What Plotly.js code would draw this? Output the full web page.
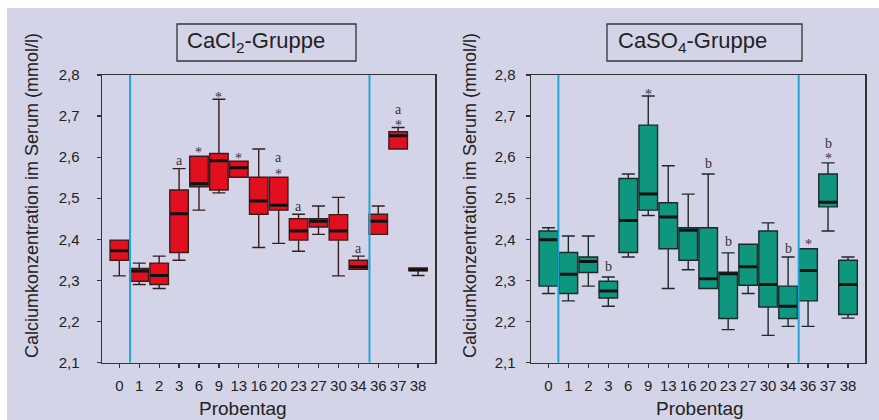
<!DOCTYPE html>
<html>
<head>
<meta charset="utf-8">
<script src="https://cdn.plot.ly/plotly-3.0.1.min.js"></script>
<style>html,body{margin:0;padding:0;background:#fff;}#chart{width:879px;height:420px;}</style>
</head>
<body>
<div id="chart"></div>
<script>
// Sampling days (categories)
const days = ['0','1','2','3','6','9','13','16','20','23','27','30','34','36','37','38'];

// CaCl2 group: whisker low, Q1, median, Q3, whisker high (mmol/l)
const cl_lo  = [2.311, 2.290, 2.280, 2.349, 2.471, 2.513, 2.551, 2.380, 2.390, 2.371, 2.412, 2.311, 2.327, 2.412, 2.620, 2.312];
const cl_q1  = [2.349, 2.298, 2.290, 2.368, 2.528, 2.520, 2.551, 2.461, 2.471, 2.398, 2.430, 2.398, 2.327, 2.412, 2.620, 2.323];
const cl_med = [2.372, 2.323, 2.312, 2.462, 2.535, 2.591, 2.574, 2.493, 2.483, 2.420, 2.444, 2.420, 2.333, 2.444, 2.652, 2.326];
const cl_q3  = [2.398, 2.329, 2.342, 2.520, 2.602, 2.609, 2.590, 2.551, 2.551, 2.450, 2.450, 2.460, 2.349, 2.461, 2.662, 2.330];
const cl_hi  = [2.398, 2.342, 2.359, 2.572, 2.602, 2.741, 2.590, 2.620, 2.551, 2.461, 2.481, 2.502, 2.359, 2.481, 2.672, 2.330];

// CaSO4 group
const so_lo  = [2.268, 2.250, 2.286, 2.237, 2.357, 2.458, 2.280, 2.326, 2.280, 2.180, 2.268, 2.166, 2.188, 2.188, 2.420, 2.208];
const so_q1  = [2.286, 2.268, 2.319, 2.257, 2.368, 2.471, 2.377, 2.349, 2.280, 2.207, 2.288, 2.235, 2.207, 2.250, 2.479, 2.217];
const so_med = [2.399, 2.315, 2.346, 2.274, 2.446, 2.510, 2.454, 2.422, 2.304, 2.316, 2.333, 2.290, 2.237, 2.324, 2.490, 2.290];
const so_q3  = [2.420, 2.368, 2.357, 2.298, 2.548, 2.678, 2.489, 2.428, 2.428, 2.320, 2.388, 2.420, 2.286, 2.377, 2.559, 2.349];
const so_hi  = [2.428, 2.408, 2.408, 2.308, 2.559, 2.749, 2.579, 2.510, 2.559, 2.367, 2.388, 2.440, 2.357, 2.377, 2.586, 2.357];

// Significance marks (category index, value, label)
const markL_x = [3, 4, 5, 6, 8, 8, 9, 12, 14, 14];
const markL_y = [2.593, 2.620, 2.755, 2.607, 2.598, 2.568, 2.481, 2.377, 2.716, 2.688];
const markL_t = ['a','*','*','*','a','*','a','a','a','*'];
const markR_x = [3, 5, 8, 9, 12, 13, 14, 14];
const markR_y = [2.333, 2.763, 2.585, 2.394, 2.377, 2.398, 2.633, 2.607];
const markR_t = ['b','*','b','b','b','*','b','*'];

// Phase separators (category positions)
const sepL = [0.54, 12.56];
const sepR = [0.50, 12.53];

const idx = days.map((d, i) => i);
const W = 879, H = 420;
const px = v => v / W, py = v => 1 - v / H;

function boxTrace(q1, med, q3, lo, hi, fill, line, xa, ya) {
  return {
    type: 'box', x: idx, q1: q1, median: med, q3: q3, lowerfence: lo, upperfence: hi,
    width: 0.93, whiskerwidth: 0.7, fillcolor: fill,
    line: {color: line, width: 1.4}, boxpoints: false,
    xaxis: xa, yaxis: ya, hoverinfo: 'skip', showlegend: false
  };
}
function medTrace(med, xa, ya) {
  return {
    type: 'scatter', mode: 'markers', x: idx, y: med,
    marker: {symbol: 'line-ew', size: 12.6, color: '#111', line: {color: '#111', width: 3}},
    xaxis: xa, yaxis: ya, hoverinfo: 'skip', showlegend: false
  };
}

const data = [
  boxTrace(cl_q1, cl_med, cl_q3, cl_lo, cl_hi, '#e2101e', '#3a1c1c', 'x', 'y'),
  medTrace(cl_med, 'x', 'y'),
  boxTrace(so_q1, so_med, so_q3, so_lo, so_hi, '#0f967e', '#1c2a28', 'x2', 'y2'),
  medTrace(so_med, 'x2', 'y2')
];

const tickFont = {family: 'Liberation Sans, Arial, sans-serif', size: 15, color: '#222'};
function xAxis(dom, anchor) {
  return {
    domain: dom, anchor: anchor, range: [-0.87, 15.85],
    tickmode: 'array', tickvals: idx, ticktext: days,
    ticks: 'outside', ticklen: 4, tickwidth: 1.2, tickcolor: '#333',
    showline: true, linecolor: '#333', linewidth: 1.5, mirror: true,
    showgrid: false, zeroline: false, tickfont: tickFont, ticklabelstandoff: 5,
    fixedrange: true
  };
}
function yAxis(anchor, standoff) {
  return {
    domain: [py(362.5), py(75)], anchor: anchor, range: [2.1, 2.8],
    tick0: 2.1, dtick: 0.1, tickformat: '.1f',
    ticks: 'outside', ticklen: 4, tickwidth: 1.2, tickcolor: '#333',
    showline: true, linecolor: '#333', linewidth: 1.5, mirror: true,
    showgrid: false, zeroline: false, tickfont: tickFont, ticklabelstandoff: standoff,
    fixedrange: true
  };
}

const shapes = [
  {type: 'rect', xref: 'paper', yref: 'paper', x0: px(7), x1: 1, y0: 0, y1: py(8),
   fillcolor: '#d4d4e8', line: {width: 0}, layer: 'below'},
  {type: 'rect', xref: 'paper', yref: 'paper', x0: px(177), x1: px(356), y0: py(61), y1: py(24),
   line: {color: '#333', width: 1.3}},
  {type: 'rect', xref: 'paper', yref: 'paper', x0: px(607), x1: px(802), y0: py(61), y1: py(24),
   line: {color: '#333', width: 1.3}}
];
sepL.forEach(s => shapes.push({type: 'line', xref: 'x', yref: 'y domain', x0: s, x1: s, y0: 0, y1: 1,
  line: {color: '#1ea6d4', width: 2}}));
sepR.forEach(s => shapes.push({type: 'line', xref: 'x2', yref: 'y2 domain', x0: s, x1: s, y0: 0, y1: 1,
  line: {color: '#1ea6d4', width: 2}}));

const labFont = {family: 'Liberation Sans, Arial, sans-serif', color: '#222'};
const annotations = [
  {xref: 'paper', yref: 'paper', x: px(185), y: py(42.5), xanchor: 'left', yanchor: 'middle',
   text: 'CaCl<sub>2</sub>-Gruppe', showarrow: false, font: Object.assign({size: 22}, labFont)},
  {xref: 'paper', yref: 'paper', x: px(616), y: py(42.5), xanchor: 'left', yanchor: 'middle',
   text: 'CaSO<sub>4</sub>-Gruppe', showarrow: false, font: Object.assign({size: 22}, labFont)},
  {xref: 'paper', yref: 'paper', x: px(32), y: py(196), textangle: -90, xanchor: 'center', yanchor: 'middle',
   text: 'Calciumkonzentration im Serum (mmol/l)', showarrow: false, font: Object.assign({size: 18}, labFont)},
  {xref: 'paper', yref: 'paper', x: px(470), y: py(196), textangle: -90, xanchor: 'center', yanchor: 'middle',
   text: 'Calciumkonzentration im Serum (mmol/l)', showarrow: false, font: Object.assign({size: 18}, labFont)},
  {xref: 'paper', yref: 'paper', x: px(243), y: py(408), xanchor: 'center', yanchor: 'middle',
   text: 'Probentag', showarrow: false, font: Object.assign({size: 19}, labFont)},
  {xref: 'paper', yref: 'paper', x: px(700), y: py(408), xanchor: 'center', yanchor: 'middle',
   text: 'Probentag', showarrow: false, font: Object.assign({size: 19}, labFont)}
];
function addMarks(xs, ys, ts, xr, yr) {
  xs.forEach((x, i) => annotations.push({
    xref: xr, yref: yr, x: x, y: ys[i], text: ts[i], showarrow: false,
    xanchor: 'center', yanchor: 'middle', yshift: ts[i] === '*' ? -4 : 0,
    font: {family: 'Liberation Serif, DejaVu Serif, serif', size: 14, color: '#333'}
  }));
}
addMarks(markL_x, markL_y, markL_t, 'x', 'y');
addMarks(markR_x, markR_y, markR_t, 'x2', 'y2');

const layout = {
  width: W, height: H, margin: {l: 0, r: 0, t: 0, b: 0, pad: 0},
  paper_bgcolor: '#ffffff', plot_bgcolor: '#dddddd',
  separators: ', ', showlegend: false,
  xaxis: xAxis([px(102), px(435)], 'y'),
  yaxis: yAxis('x', 14),
  xaxis2: xAxis([px(531), px(865)], 'y2'),
  yaxis2: yAxis('x2', 7),
  shapes: shapes, annotations: annotations
};

Plotly.newPlot('chart', data, layout, {staticPlot: true, displayModeBar: false});
</script>
</body>
</html>
